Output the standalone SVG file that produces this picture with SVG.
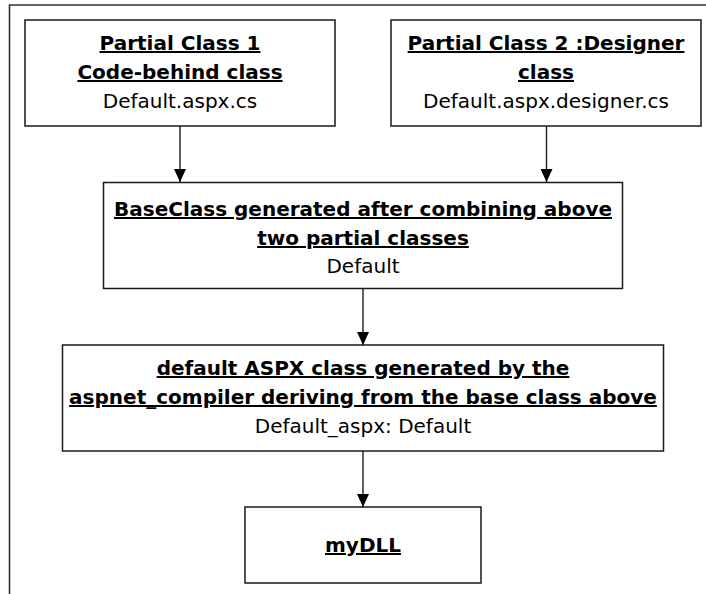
<svg xmlns="http://www.w3.org/2000/svg" width="706" height="594" viewBox="0 0 706 594">
  <style>
    .frame { fill: none; stroke: #333; stroke-width: 1.6; }
    .box { fill: #fff; stroke: #1a1a1a; stroke-width: 1.5; }
    .edge { fill: none; stroke: #1a1a1a; stroke-width: 1.4; marker-end: url(#arrow); }
    .title { font-family: "DejaVu Sans", "Liberation Sans", sans-serif; font-size: 20px; font-weight: bold; fill: #000; text-decoration: underline; text-anchor: middle; }
    .sub { font-family: "DejaVu Sans", "Liberation Sans", sans-serif; font-size: 20px; fill: #000; text-anchor: middle; }
  </style>
  <defs>
    <marker id="arrow" viewBox="0 0 13 12" refX="13" refY="6" markerWidth="13" markerHeight="12" markerUnits="userSpaceOnUse" orient="auto">
      <path d="M0,0 L13,6 L0,12 z" fill="#000"/>
    </marker>
  </defs>

  <rect width="706" height="594" fill="#fff"/>

  <!-- open page frame: top and left edges only -->
  <path class="frame" d="M9.5,594 V5 H706"/>

  <g id="connectors">
    <line class="edge" x1="180" y1="126" x2="180" y2="182"/>
    <line class="edge" x1="546.5" y1="126" x2="546.5" y2="182"/>
    <line class="edge" x1="363" y1="288" x2="363" y2="345"/>
    <line class="edge" x1="363" y1="451" x2="363" y2="507"/>
  </g>

  <g id="partial-class-1">
    <rect class="box" x="25" y="20" width="310" height="106"/>
    <text class="title" x="180" y="50">Partial Class 1</text>
    <text class="title" x="180" y="79">Code-behind class</text>
    <text class="sub" x="180" y="108">Default.aspx.cs</text>
  </g>

  <g id="partial-class-2">
    <rect class="box" x="391" y="20" width="310" height="106"/>
    <text class="title" x="546" y="50">Partial Class 2 :Designer</text>
    <text class="title" x="546" y="79">class</text>
    <text class="sub" x="546" y="108">Default.aspx.designer.cs</text>
  </g>

  <g id="base-class">
    <rect class="box" x="103.5" y="182.5" width="519" height="106"/>
    <text class="title" x="363" y="216">BaseClass generated after combining above</text>
    <text class="title" x="363" y="245">two partial classes</text>
    <text class="sub" x="363" y="273">Default</text>
  </g>

  <g id="aspx-class">
    <rect class="box" x="62.5" y="345" width="601" height="106"/>
    <text class="title" x="363" y="375">default ASPX class generated by the</text>
    <text class="title" x="363" y="404">aspnet_compiler deriving from the base class above</text>
    <text class="sub" x="363" y="433">Default_aspx: Default</text>
  </g>

  <g id="my-dll">
    <rect class="box" x="245" y="507" width="236" height="76"/>
    <text class="title" x="363" y="552">myDLL</text>
  </g>
</svg>
